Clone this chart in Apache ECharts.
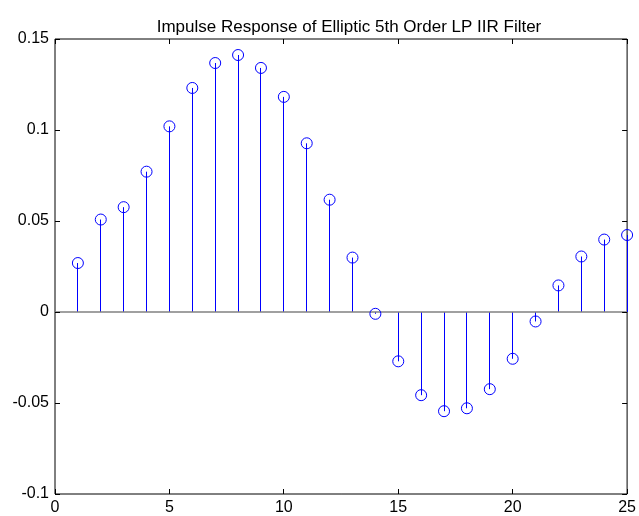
<!DOCTYPE html>
<html>
<head>
<meta charset="utf-8">
<script src="https://cdn.jsdelivr.net/npm/echarts@6/dist/echarts.min.js"></script>
<style>
html,body{margin:0;padding:0;background:#fff;}
#c{width:639px;height:516px;}
</style>
</head>
<body>
<div id="c"></div>
<script>
const titleText = 'Impulse Response of Elliptic 5th Order LP IIR Filter';
const sampleIndex = [1,2,3,4,5,6,7,8,9,10,11,12,13,14,15,16,17,18,19,20,21,22,23,24,25];
const response = [0.0269,0.0508,0.0576,0.0771,0.1020,0.1231,0.1368,0.1412,0.1341,0.1182,
                  0.0927,0.0617,0.0299,-0.0010,-0.0271,-0.0457,-0.0545,-0.0529,-0.0424,-0.0257,
                  -0.0052,0.0146,0.0305,0.0398,0.0423];
const xTicks = [0,5,10,15,20,25];
const yTicks = [-0.1,-0.05,0,0.05,0.1,0.15];

const pts = sampleIndex.map((n,i)=>[n,response[i]]);
const fontFam = '"Liberation Sans", Arial, sans-serif';
const X0 = xTicks[0], X1 = xTicks[xTicks.length-1];
const Y0 = yTicks[0], Y1 = yTicks[yTicks.length-1];

function crisp(v){ return Math.round(v - 0.5) + 0.5; }

const chart = echarts.init(document.getElementById('c'), null, {renderer:'canvas'});
chart.setOption({
  animation:false,
  backgroundColor:'#fff',
  title:{text:titleText,left:344,textAlign:'center',top:14,
         textStyle:{fontFamily:fontFam,fontSize:17,fontWeight:'normal',color:'#000'}},
  grid:{left:55,right:6,top:39,bottom:21,containLabel:false,show:true,borderColor:'#000',borderWidth:1,backgroundColor:'transparent'},
  xAxis:{type:'value',min:X0,max:X1,interval:5,
    axisLine:{show:false},axisTick:{show:false},splitLine:{show:false},
    axisLabel:{show:true,margin:6,color:'#000',fontFamily:fontFam,fontSize:16,showMaxLabel:true,showMinLabel:true}},
  yAxis:{type:'value',min:Y0,max:Y1,interval:0.05,
    axisLine:{show:false},axisTick:{show:false},splitLine:{show:false},
    axisLabel:{show:true,margin:6,color:'#000',fontFamily:fontFam,fontSize:16,
      formatter:v=>String(Math.round(v*100)/100)}},
  series:[
    {
      // inward tick marks on all four sides, placed from the tick arrays
      type:'custom',
      data:[[X0,Y0]],
      silent:true,z:5,
      renderItem:function(params,api){
        const L = 5;
        const children = [];
        xTicks.forEach(t=>{
          const pb = api.coord([t,Y0]);
          const pt = api.coord([t,Y1]);
          const x = crisp(pb[0]);
          children.push({type:'line',shape:{x1:x,y1:pb[1],x2:x,y2:pb[1]-L},style:{stroke:'#000',lineWidth:1}});
          children.push({type:'line',shape:{x1:x,y1:pt[1],x2:x,y2:pt[1]+L},style:{stroke:'#000',lineWidth:1}});
        });
        yTicks.forEach(t=>{
          const pl = api.coord([X0,t]);
          const pr = api.coord([X1,t]);
          const y = crisp(pl[1]);
          children.push({type:'line',shape:{x1:pl[0],y1:y,x2:pl[0]+L,y2:y},style:{stroke:'#000',lineWidth:1}});
          children.push({type:'line',shape:{x1:pr[0],y1:y,x2:pr[0]-L,y2:y},style:{stroke:'#000',lineWidth:1}});
        });
        return {type:'group',children:children};
      }
    },
    {
      type:'custom',
      data:pts,
      renderItem:function(params,api){
        const p0 = api.coord([api.value(0),0]);
        const p1 = api.coord([api.value(0),api.value(1)]);
        const x = crisp(p0[0]);
        return {type:'line',shape:{x1:x,y1:p0[1],x2:x,y2:p1[1]},
                style:{stroke:'#0000ff',lineWidth:1}};
      },
      silent:true,z:2
    },
    {
      type:'line',
      data:[[X0,0],[X1,0]],
      symbol:'none',
      lineStyle:{color:'#808080',width:1.5},
      silent:true,z:3
    },
    {
      type:'scatter',
      data:pts,
      symbol:'circle',
      symbolSize:11,
      itemStyle:{color:'rgba(0,0,0,0)',borderColor:'#0000ff',borderWidth:1,opacity:1},
      silent:true,z:4
    }
  ]
});
</script>
</body>
</html>
